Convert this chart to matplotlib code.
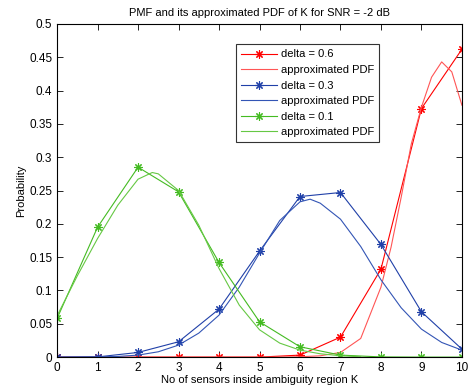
import numpy as np
import matplotlib
matplotlib.use("Agg")
import matplotlib.pyplot as plt
from matplotlib.ticker import FuncFormatter

plt.rcParams['font.family'] = ['Liberation Sans', 'DejaVu Sans']
plt.rcParams['font.size'] = 8

# PMF values at K = 0..10
k = list(range(11))
pmf_06 = [0, 0, 0, 0, 0, 0, 0.003, 0.030, 0.132, 0.373, 0.462]
pmf_03 = [0, 0.0003, 0.007, 0.023, 0.072, 0.159, 0.241, 0.247, 0.169, 0.068, 0.012]
pmf_01 = [0.058, 0.195, 0.285, 0.248, 0.142, 0.053, 0.0155, 0.003, 0.0003, 0, 0]

# approximated PDF curves
x_06 = [2, 3, 4, 5, 5.5, 6, 6.5, 7, 7.5, 8, 8.25, 8.5, 8.75, 9, 9.25, 9.5, 9.75, 10]
pdf_06 = [0, 0, 0, 0, 0, 0.0005, 0.002, 0.007, 0.028, 0.105, 0.165, 0.24, 0.32, 0.375, 0.42, 0.443, 0.428, 0.378]

x_03 = [0, 1, 1.5, 2, 2.5, 3, 3.5, 4, 4.5, 5, 5.5, 6, 6.25, 6.5, 7, 7.5, 8, 8.5, 9, 9.5, 10]
pdf_03 = [0, 0.0003, 0.001, 0.003, 0.008, 0.018, 0.036, 0.063, 0.105, 0.156, 0.205, 0.233, 0.237, 0.231, 0.207, 0.166, 0.116, 0.074, 0.042, 0.022, 0.0105]

x_01 = [0, 0.5, 1, 1.5, 2, 2.35, 2.5, 3, 3.5, 4, 4.5, 5, 5.5, 6, 6.5, 7, 7.5]
pdf_01 = [0.062, 0.122, 0.178, 0.228, 0.267, 0.277, 0.275, 0.25, 0.198, 0.133, 0.078, 0.041, 0.021, 0.0105, 0.005, 0.002, 0.0005]

fig = plt.figure(figsize=(4.68, 3.92), dpi=100)
ax = fig.add_axes([0.122, 0.089, 0.865, 0.85])

star = (8, 2, 0)  # MATLAB-like asterisk
ax.plot(k, pmf_06, '-', marker=star, color='#ff0000', lw=0.8, ms=6, mew=0.8, label='delta = 0.6')
ax.plot(x_06, pdf_06, '-', color='#ff5555', lw=0.8, label='approximated PDF')
ax.plot(k, pmf_03, '-', marker=star, color='#2040a8', lw=0.8, ms=6, mew=0.8, label='delta = 0.3')
ax.plot(x_03, pdf_03, '-', color='#3355b5', lw=0.8, label='approximated PDF')
ax.plot(k, pmf_01, '-', marker=star, color='#44bb22', lw=0.8, ms=6, mew=0.8, label='delta = 0.1')
ax.plot(x_01, pdf_01, '-', color='#66c844', lw=0.8, label='approximated PDF')

ax.set_xlim(0, 10)
ax.set_ylim(0, 0.5)
ax.set_xticks(range(11))
ax.set_yticks(np.arange(0, 0.51, 0.05))
ax.yaxis.set_major_formatter(FuncFormatter(lambda v, p: '%g' % round(v, 2)))
ax.tick_params(direction='in', top=True, right=True, length=4, width=0.6, labelsize=8.5)
for s in ax.spines.values():
    s.set_linewidth(0.8)

ax.set_title('PMF and its approximated PDF of K for SNR = -2 dB', fontsize=8)
ax.set_xlabel('No of sensors inside ambiguity region K', fontsize=8, labelpad=1)
ax.set_ylabel('Probability', fontsize=8, labelpad=2)

leg = ax.legend(loc='upper right', bbox_to_anchor=(0.81, 0.955), fancybox=False,
                framealpha=1, edgecolor='#333333', handlelength=3.2,
                handletextpad=0.4, borderpad=0.45, labelspacing=0.5, fontsize=8)
leg.get_frame().set_linewidth(0.8)

fig.savefig('out.png', dpi=100)
